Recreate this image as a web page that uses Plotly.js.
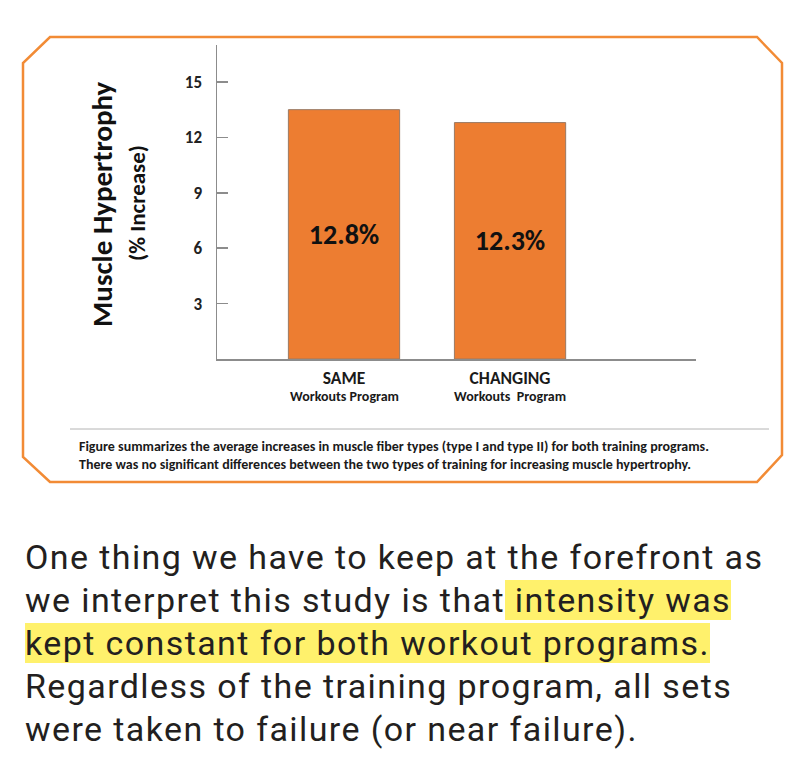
<!DOCTYPE html>
<html>
<head>
<meta charset="utf-8">
<script src="https://cdn.plot.ly/plotly-3.0.1.min.js"></script>
<style>
  html, body { margin: 0; padding: 0; background: #ffffff; width: 800px; height: 765px; overflow: hidden; }
  #chart { position: absolute; left: 0; top: 0; width: 800px; height: 500px; }
  #para { position: absolute; left: 25px; top: 536px; font-family: Roboto, "Liberation Sans", sans-serif;
          font-size: 34px; line-height: 43px; letter-spacing: 1.4px; color: #231f20; white-space: nowrap; }
  .hl { background: #fff16c; }
</style>
</head>
<body>
<div id="chart"></div>
<div id="para">One thing we have to keep at the forefront as<br>we interpret this study is that<span class="hl"> intensity was</span><br><span class="hl">kept constant for both workout programs.</span><br>Regardless of the training program, all sets<br>were taken to failure (or near failure).</div>
<script>
// ---- data ----
const categories = ["SAME", "CHANGING"];
const categorySub = ["Workouts Program", "Workouts&nbsp; Program"];
const hypertrophyValues = [13.5, 12.8];
const barLabels = ["12.8%", "12.3%"];
const yTickValues = [3, 6, 9, 12, 15];
const yTitle = "Muscle Hypertrophy";
const ySubTitle = "(% Increase)";
const captionLines = [
  "Figure summarizes the average increases in muscle fiber types (type I and type II) for both training programs.",
  "There was no significant differences between the two types of training for increasing muscle hypertrophy."
];

// ---- layout geometry (pixels) ----
const W = 800, H = 500, L = 217, R = 104, T = 45, B = 141;
const PW = W - L - R, PH = H - T - B;
const px = x => (x - L) / PW;
const py = y => (H - B - y) / PH;

const FONT = "Carlito, Lato, 'Open Sans', sans-serif";
const ORANGE = "#f28b35";

const boxPts = [[50,37],[757,37],[782,63],[782,455],[757,482],[50,482],[23,457],[23,63]];
const boxPath = boxPts.map((p, i) => (i ? "L" : "M") + px(p[0]).toFixed(5) + "," + py(p[1]).toFixed(5)).join(" ") + " Z";

const trace = {
  type: "bar",
  x: categories,
  y: hypertrophyValues,
  text: barLabels.map(t => "<b>" + t + "</b>"),
  texttemplate: "%{text}",
  textposition: "inside",
  insidetextanchor: "middle",
  textangle: 0,
  textfont: { family: FONT, size: 28, color: "#111111" },
  marker: { color: "#ed7d31", line: { color: "#9a7a64", width: 1 } },
  width: 0.67,
  hoverinfo: "skip"
};

const subAnnotations = categories.map((c, i) => ({
  xref: "x", yref: "paper", x: c, y: py(396), text: "<b>" + categorySub[i] + "</b>",
  showarrow: false, font: { family: FONT, size: 14, color: "#1a1a1a" },
  xanchor: "center", yanchor: "middle"
}));

const layout = {
  width: W, height: H,
  margin: { l: L, r: R, t: T, b: B, pad: 0 },
  paper_bgcolor: "#ffffff",
  plot_bgcolor: "#ffffff",
  showlegend: false,
  font: { family: FONT, color: "#222222" },
  xaxis: {
    type: "category",
    range: [-0.765, 2.12],
    tickvals: categories,
    ticktext: categories.map(c => "<b>" + c + "</b>"),
    tickfont: { family: FONT, size: 17.5, color: "#1a1a1a" },
    ticks: "",
    ticklabelstandoff: 2,
    showline: true, linecolor: "#8c8c8c", linewidth: 1.5,
    showgrid: false, zeroline: false, fixedrange: true
  },
  yaxis: {
    range: [0, 17],
    tickvals: yTickValues,
    ticktext: yTickValues.map(v => "<b>" + v + "</b>"),
    tickfont: { family: FONT, size: 17, color: "#222222" },
    ticks: "inside", ticklen: 11, tickcolor: "#8c8c8c", tickwidth: 1.5,
    ticklabelstandoff: 10,
    showline: true, linecolor: "#8c8c8c", linewidth: 1.5,
    showgrid: false, zeroline: false, fixedrange: true
  },
  shapes: [
    { type: "path", xref: "paper", yref: "paper", path: boxPath,
      line: { color: ORANGE, width: 2.5 }, fillcolor: "rgba(0,0,0,0)", layer: "below" },
    { type: "line", xref: "paper", yref: "paper", x0: px(70), x1: px(769), y0: py(429), y1: py(429),
      line: { color: "#b4b4b4", width: 1 } }
  ],
  annotations: [
    { xref: "paper", yref: "paper", x: px(102), y: py(204), text: "<b>" + yTitle + "</b>",
      textangle: -90, showarrow: false, font: { family: FONT, size: 29, color: "#111111" },
      xanchor: "center", yanchor: "middle" },
    { xref: "paper", yref: "paper", x: px(137), y: py(203), text: "<b>" + ySubTitle + "</b>",
      textangle: -90, showarrow: false, font: { family: FONT, size: 23, color: "#111111" },
      xanchor: "center", yanchor: "middle" },
    { xref: "paper", yref: "paper", x: px(77), y: py(446), text: "<b>" + captionLines[0] + "</b>",
      showarrow: false, font: { family: FONT, size: 14, color: "#1a1a1a" },
      xanchor: "left", yanchor: "middle" },
    { xref: "paper", yref: "paper", x: px(77), y: py(464), text: "<b>" + captionLines[1] + "</b>",
      showarrow: false, font: { family: FONT, size: 14, color: "#1a1a1a" },
      xanchor: "left", yanchor: "middle" }
  ].concat(subAnnotations)
};

Plotly.newPlot("chart", [trace], layout, { displayModeBar: false, staticPlot: true });
</script>
</body>
</html>
